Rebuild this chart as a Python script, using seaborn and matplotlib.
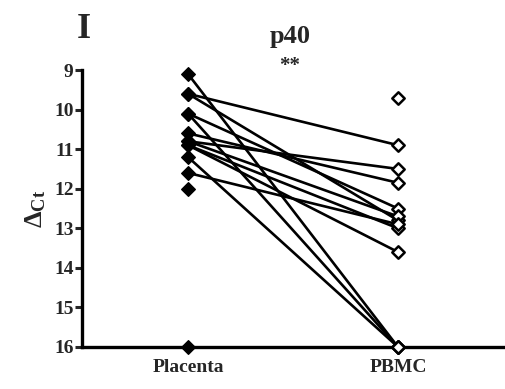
import numpy as np
import pandas as pd
import matplotlib
matplotlib.use("Agg")
import matplotlib.pyplot as plt
import seaborn as sns

# paired delta Ct values, one entry per sample (nan = no partner)
placenta = [9.1, 9.6, 9.6, 10.1, 10.1, 10.6, 10.8, 10.8, 10.9, 10.9, 11.2, 11.6, 12.0, 16.0, np.nan]
pbmc = [16.0, 10.9, 12.8, 16.0, 12.5, 11.85, 11.5, 12.7, 13.6, 13.0, 16.0, 12.9, np.nan, np.nan, 9.7]
tissues = ["Placenta", "PBMC"]

sns.set_style("white")
plt.rcParams["font.family"] = ["Liberation Serif", "DejaVu Serif"]
plt.rcParams["font.weight"] = "bold"
plt.rcParams["mathtext.fontset"] = "custom"
plt.rcParams["mathtext.rm"] = "Liberation Serif:bold"
plt.rcParams["mathtext.it"] = "Liberation Serif:bold"
plt.rcParams["mathtext.bf"] = "Liberation Serif:bold"

rows = []
for i, (a, b) in enumerate(zip(placenta, pbmc)):
    rows.append({"subject": i, "tissue": tissues[0], "value": a, "pos": 0})
    rows.append({"subject": i, "tissue": tissues[1], "value": b, "pos": 1})
df = pd.DataFrame(rows)
paired = df.groupby("subject")["value"].transform(lambda s: s.notna().all())

fig = plt.figure(figsize=(5.06, 3.89), dpi=100)
ax = fig.add_axes([0.162, 0.108, 0.832, 0.712])

sns.lineplot(data=df[paired], x="pos", y="value", units="subject", estimator=None,
             color="black", linewidth=1.9, ax=ax, legend=False)

pl = df[df["tissue"] == "Placenta"].dropna()
pb = df[df["tissue"] == "PBMC"].dropna()
sns.scatterplot(data=pl, x="pos", y="value", marker="D", s=48, color="black",
                edgecolor="black", linewidth=1, ax=ax, clip_on=False, zorder=3)
sns.scatterplot(data=pb, x="pos", y="value", marker="D", s=40, color="white",
                edgecolor="black", linewidth=1.8, ax=ax, clip_on=False, zorder=3)

ax.set_xlim(-0.505, 1.5)
ax.set_ylim(16, 9)
ax.set_yticks(range(9, 17))
ax.set_xticks([0, 1])
ax.set_xticklabels(tissues)
ax.set_xlabel("")
ax.set_ylabel(r"$\Delta_{\rm Ct}$", fontsize=19, labelpad=4)

for s in ["top", "right"]:
    ax.spines[s].set_visible(False)
for s in ["left", "bottom"]:
    ax.spines[s].set_linewidth(2.4)
    ax.spines[s].set_color("black")
ax.tick_params(axis="y", length=5, width=2.2, labelsize=14, pad=1, direction="out", left=True)
ax.tick_params(axis="x", length=0, labelsize=14, pad=9)
for lab in ax.get_xticklabels() + ax.get_yticklabels():
    lab.set_fontweight("bold")

fig.text(0.573, 0.905, "p40", ha="center", va="center", fontsize=19, fontweight="bold")
fig.text(0.166, 0.925, "I", ha="center", va="center", fontsize=26, fontweight="bold")
fig.text(0.573, 0.83, "**", ha="center", va="center", fontsize=15, fontweight="bold")

fig.savefig("out.png", dpi=100)
